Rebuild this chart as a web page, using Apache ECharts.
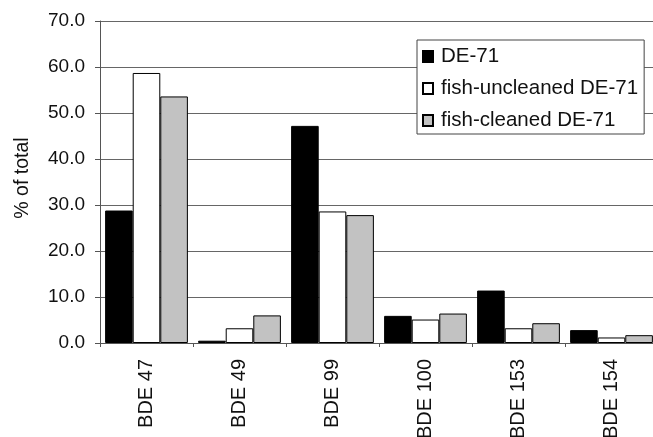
<!DOCTYPE html>
<html><head><meta charset="utf-8">
<script src="https://cdn.jsdelivr.net/npm/echarts@6/dist/echarts.min.js"></script>
<style>html,body{margin:0;padding:0;background:#fff}#c{width:653px;height:437px}</style>
</head><body><div id="c"></div>
<script>
const categories = ['BDE 47','BDE 49','BDE 99','BDE 100','BDE 153','BDE 154'];
const de71 = [28.8, 0.5, 47.2, 5.9, 11.4, 2.8];
const fishUncleaned = [58.7, 3.2, 28.6, 5.1, 3.2, 1.2];
const fishCleaned = [53.6, 6.0, 27.8, 6.4, 4.3, 1.7];
const yTicks = [0, 10, 20, 30, 40, 50, 60, 70];

const font = 'Liberation Sans, Arial, sans-serif';
const chart = echarts.init(document.getElementById('c'));
function s(name, data, color) {
  return {name, type:'bar', data, barGap:'0%', barCategoryGap:'11%',
    itemStyle:{color, borderColor:'#000', borderWidth:1}};
}
chart.setOption({
  animation:false,
  textStyle:{fontFamily:font},
  grid:{left:100, top:21, width:558, height:322, containLabel:false, outerBoundsMode:'none'},
  legend:{orient:'vertical', left:417, top:40, padding:[6,6,3,5],
    borderColor:'#444', borderWidth:1, backgroundColor:'#fff',
    itemWidth:10, itemHeight:11, itemGap:11, icon:'rect',
    textStyle:{fontSize:20.5, lineHeight:21, color:'#111', fontFamily:font, padding:[0,0,0,3]},
    data:['DE-71','fish-uncleaned DE-71','fish-cleaned DE-71']},
  xAxis:{type:'category', data:categories,
    axisLine:{lineStyle:{color:'#555', width:1}},
    axisTick:{show:true, length:4, lineStyle:{color:'#555'}},
    axisLabel:{rotate:90, fontSize:20, color:'#111', margin:16, fontFamily:font}},
  yAxis:{type:'value', min:0, max:70, interval:10,
    name:'% of total', nameLocation:'middle', nameGap:67,
    nameTextStyle:{fontSize:19.5, color:'#111', fontFamily:font, padding:[0,0,0,8]},
    axisLine:{show:true, lineStyle:{color:'#555'}},
    axisTick:{show:true, length:5, inside:false, lineStyle:{color:'#555'}},
    axisLabel:{fontSize:19, color:'#111', margin:15, fontFamily:font,
      formatter:v=> yTicks.includes(v) ? v.toFixed(1) : ''},
    splitLine:{show:true, lineStyle:{color:'#666', width:1}}},
  series:[s('DE-71', de71, '#000'), s('fish-uncleaned DE-71', fishUncleaned, '#fff'), s('fish-cleaned DE-71', fishCleaned, '#c2c2c2')]
});
</script></body></html>
